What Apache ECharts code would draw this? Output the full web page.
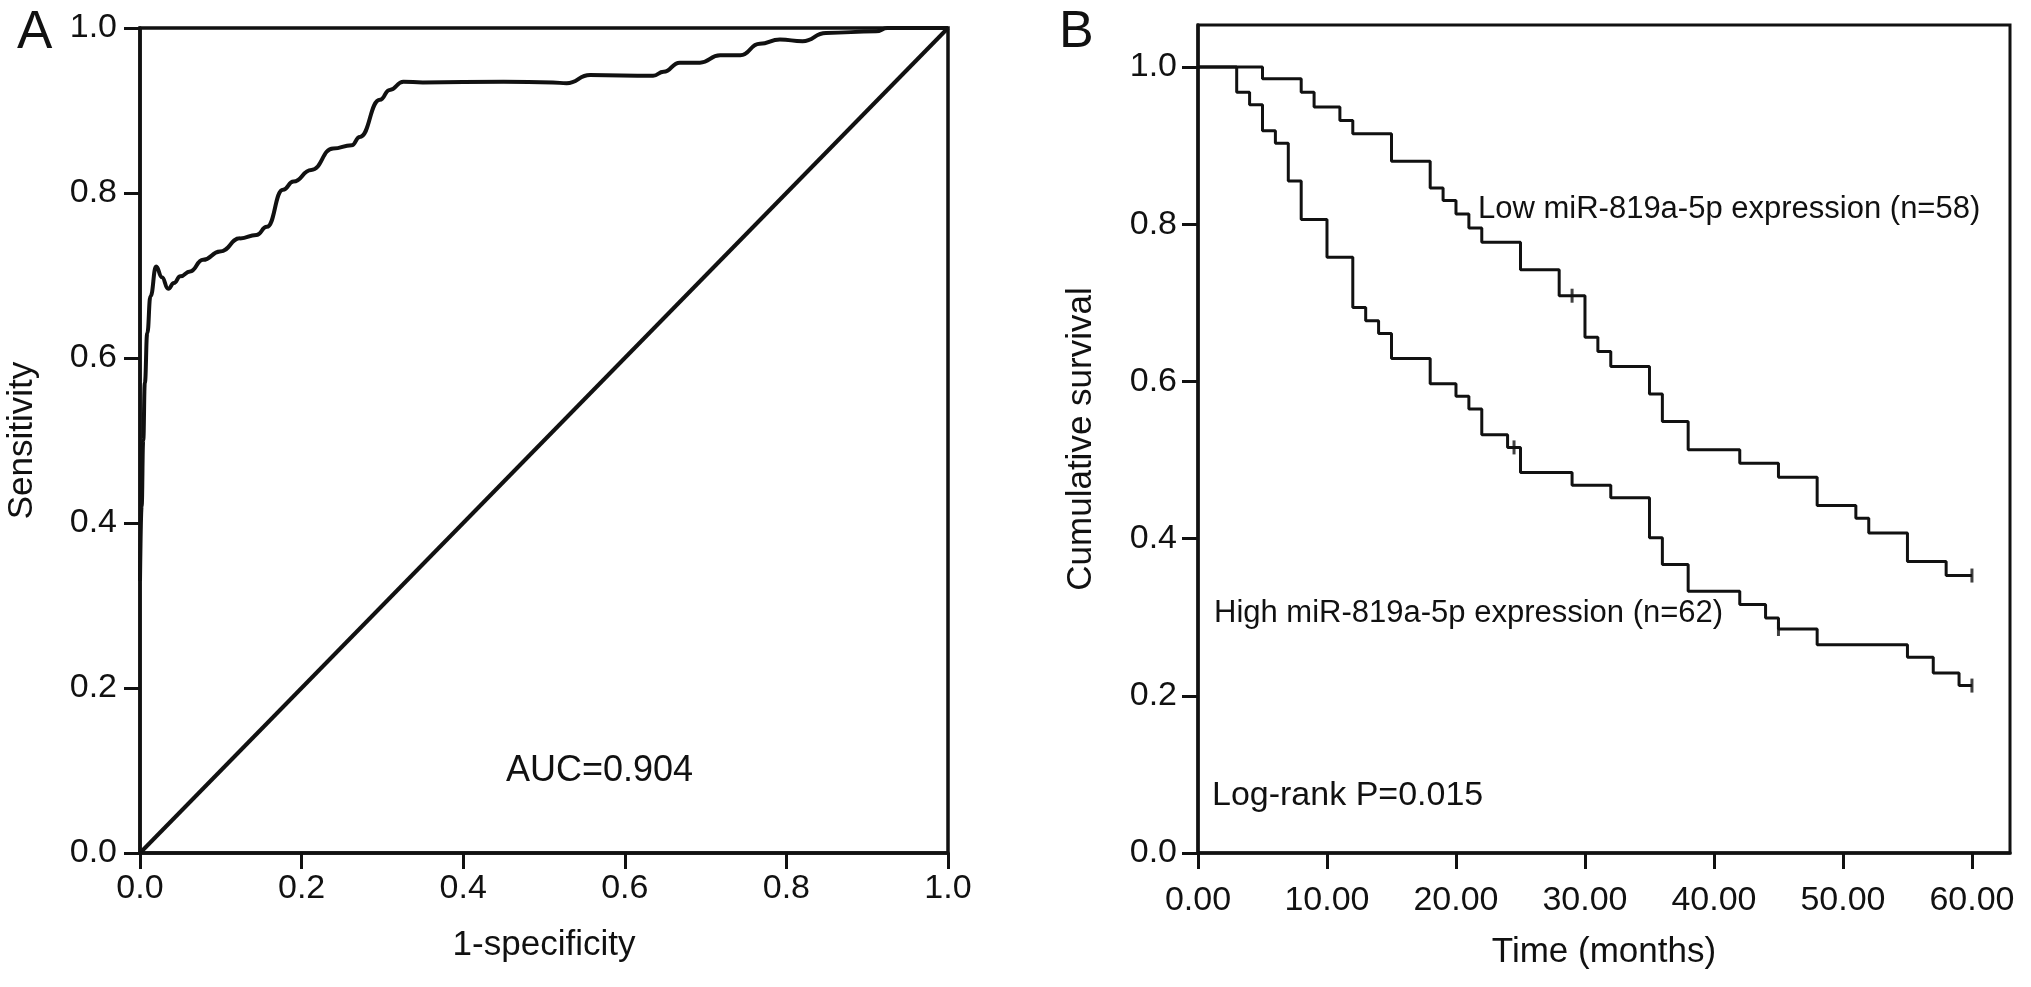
<!DOCTYPE html>
<html>
<head>
<meta charset="utf-8">
<title>ROC and survival</title>
<script src="https://cdn.jsdelivr.net/npm/echarts@6/dist/echarts.min.js"></script>
<style>
  html, body { margin: 0; padding: 0; background: #fff; }
  #chart { width: 2031px; height: 987px; }
</style>
</head>
<body>
<div id="chart"></div>
<script>
// panel A: ROC curve
var rocFpr = [0, 0.002, 0.004, 0.006, 0.009, 0.013, 0.02, 0.027, 0.035, 0.042, 0.05, 0.062, 0.078, 0.099,
    0.124, 0.144, 0.157, 0.177, 0.19, 0.212, 0.239, 0.262, 0.272, 0.297, 0.309, 0.326, 0.35, 0.45, 0.511,
    0.528, 0.557, 0.635, 0.648, 0.668, 0.693, 0.718, 0.743, 0.767, 0.792, 0.82, 0.849, 0.911, 0.925, 1.0];
var rocTpr = [0.33, 0.42, 0.50, 0.57, 0.63, 0.675, 0.711, 0.698, 0.684, 0.691, 0.699, 0.705, 0.719, 0.729,
    0.745, 0.749, 0.759, 0.804, 0.814, 0.828, 0.854, 0.858, 0.868, 0.913, 0.925, 0.935, 0.934, 0.935, 0.934,
    0.933, 0.943, 0.942, 0.947, 0.958, 0.958, 0.967, 0.967, 0.981, 0.986, 0.984, 0.994, 0.996, 1.0, 1.0];
var rocTicks = [0, 0.2, 0.4, 0.6, 0.8, 1.0];

// panel B: Kaplan-Meier steps (time of drop, survival after drop)
var lowTime = [0, 5, 8, 9, 11, 12, 15, 18, 19, 20, 21, 22, 25, 28, 30, 31, 32, 35, 36, 38, 42, 45, 48, 51, 52, 55, 58, 60];
var lowSurv = [1, 0.985, 0.968, 0.949, 0.932, 0.915, 0.880, 0.846, 0.830, 0.813, 0.795, 0.777, 0.742, 0.709,
    0.656, 0.638, 0.619, 0.584, 0.549, 0.513, 0.496, 0.478, 0.442, 0.426, 0.407, 0.371, 0.353, 0.353];
var highTime = [0, 3, 4, 5, 6, 7, 8, 10, 12, 13, 14, 15, 18, 20, 21, 22, 24, 25, 29, 32, 35, 36, 38, 42, 44, 45, 48, 55, 57, 59, 60];
var highSurv = [1, 0.968, 0.952, 0.919, 0.903, 0.855, 0.806, 0.758, 0.694, 0.677, 0.661, 0.629, 0.597, 0.581,
    0.565, 0.532, 0.516, 0.484, 0.468, 0.452, 0.401, 0.367, 0.333, 0.316, 0.299, 0.285, 0.265, 0.249, 0.229, 0.213, 0.213];
var lowCensorTime = [29, 60];
var lowCensorSurv = [0.709, 0.353];
var highCensorTime = [24.5, 45, 60];
var highCensorSurv = [0.516, 0.285, 0.213];
var timeTicks = [0, 10, 20, 30, 40, 50, 60];
var survTicks = [0, 0.2, 0.4, 0.6, 0.8, 1.0];

function pairs(xs, ys) {
    return xs.map(function (x, i) { return [x, ys[i]]; });
}

var ink = '#111';
var font = "'Liberation Sans', Arial, Helvetica, sans-serif";

function valueAxis(gridIndex, max, ticks, digits, margin, name, nameGap, rotate) {
    return {
        type: 'value',
        gridIndex: gridIndex,
        min: 0,
        max: max,
        name: name,
        nameLocation: 'middle',
        nameGap: nameGap,
        nameRotate: rotate,
        nameTextStyle: { color: ink, fontSize: 35, fontFamily: font },
        splitLine: { show: false },
        axisLine: { lineStyle: { color: ink, width: 3.5 } },
        axisTick: { length: 16, customValues: ticks, lineStyle: { color: ink, width: 3 } },
        axisLabel: {
            customValues: ticks,
            margin: margin,
            color: ink,
            fontSize: 34,
            fontFamily: font,
            formatter: function (v) { return v.toFixed(digits); }
        }
    };
}

var chart = echarts.init(document.getElementById('chart'));
var option = {
    backgroundColor: '#fff',
    animation: false,
    grid: [
        { left: 140, top: 28, width: 808, height: 825, show: true, borderColor: ink, borderWidth: 3.5 },
        { left: 1198, top: 25, width: 812, height: 828, show: true, borderColor: ink, borderWidth: 3 }
    ],
    xAxis: [
        valueAxis(0, 1, rocTicks, 1, 19, '1-specificity', 75, 0),
        valueAxis(1, 62.95, timeTicks, 2, 31, 'Time (months)', 82, 0)
    ],
    yAxis: [
        valueAxis(0, 1, rocTicks, 1, 23, 'Sensitivity', 100, 90),
        valueAxis(1, 1.0534, survTicks, 1, 21, 'Cumulative survival', 99, 90)
    ],
    series: [
        {
            type: 'line', xAxisIndex: 0, yAxisIndex: 0,
            data: [[0, 0], [1, 1]],
            showSymbol: false,
            lineStyle: { color: ink, width: 4 }
        },
        {
            type: 'line', xAxisIndex: 0, yAxisIndex: 0,
            data: pairs(rocFpr, rocTpr),
            smooth: 0.5,
            smoothMonotone: 'x',
            showSymbol: false,
            lineStyle: { color: ink, width: 4 }
        },
        {
            type: 'line', xAxisIndex: 1, yAxisIndex: 1,
            data: pairs(lowTime, lowSurv),
            step: 'end',
            showSymbol: false,
            lineStyle: { color: ink, width: 3 }
        },
        {
            type: 'line', xAxisIndex: 1, yAxisIndex: 1,
            data: pairs(highTime, highSurv),
            step: 'end',
            showSymbol: false,
            lineStyle: { color: ink, width: 3 }
        },
        {
            type: 'scatter', xAxisIndex: 1, yAxisIndex: 1,
            data: pairs(lowCensorTime, lowCensorSurv).concat(pairs(highCensorTime, highCensorSurv)),
            symbol: 'rect',
            symbolSize: [3, 14],
            itemStyle: { color: ink }
        }
    ],
    graphic: [
        { type: 'text', x: 17, y: 33, style: { text: 'A', font: '53px ' + font, fill: ink, verticalAlign: 'middle' } },
        { type: 'text', x: 1059, y: 33, style: { text: 'B', font: '52px ' + font, fill: ink, verticalAlign: 'middle' } },
        { type: 'text', x: 506, y: 771, style: { text: 'AUC=0.904', font: '36px ' + font, fill: ink, verticalAlign: 'middle' } },
        { type: 'text', x: 1478, y: 209, style: { text: 'Low miR-819a-5p expression (n=58)', font: '31px ' + font, fill: ink, verticalAlign: 'middle' } },
        { type: 'text', x: 1214, y: 613, style: { text: 'High miR-819a-5p expression (n=62)', font: '31px ' + font, fill: ink, verticalAlign: 'middle' } },
        { type: 'text', x: 1212, y: 796, style: { text: 'Log-rank P=0.015', font: '34px ' + font, fill: ink, verticalAlign: 'middle' } }
    ]
};
chart.setOption(option);
window.addEventListener('resize', chart.resize);
</script>
</body>
</html>
